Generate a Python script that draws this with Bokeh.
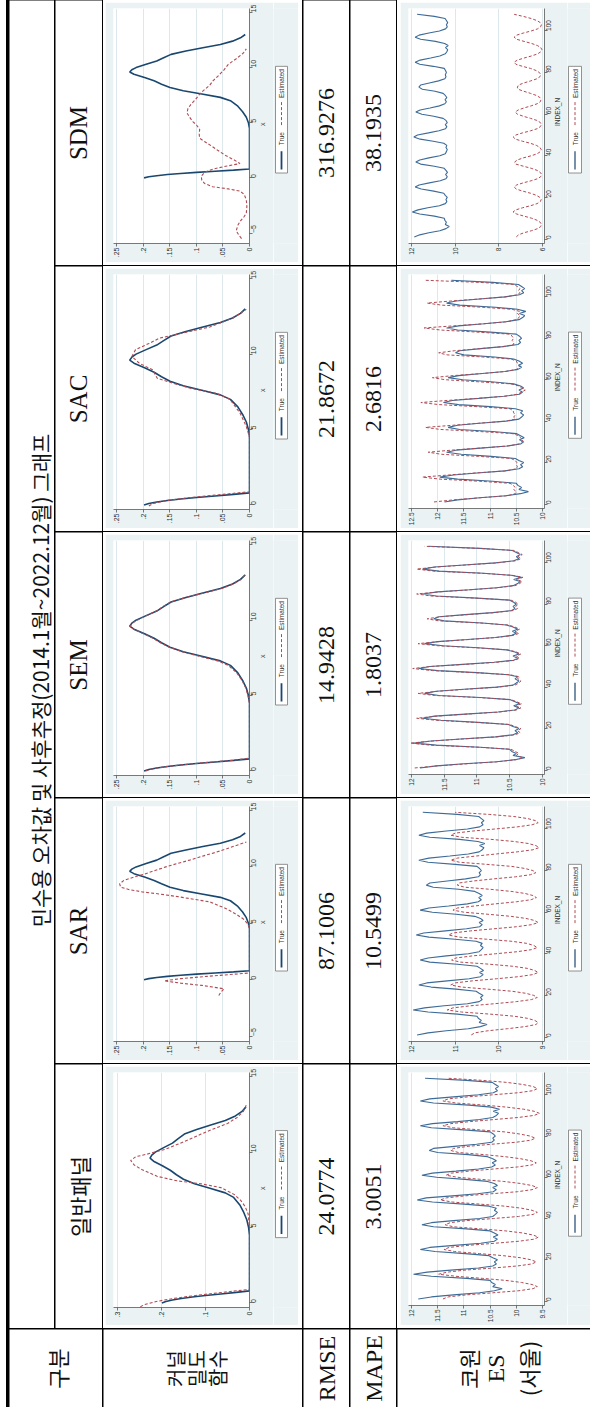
import math
from bokeh.plotting import figure
from bokeh.models import Range1d, FixedTicker, Spacer, Row, Column
from bokeh.core.properties import value
from bokeh.embed import file_html
from bokeh.resources import INLINE

# ---------------- data ----------------
models = ["일반패널", "SAR", "SEM", "SAC", "SDM"]
rmse = ["24.0774", "87.1006", "14.9428", "21.8672", "316.9276"]
mape = ["3.0051", "10.5499", "1.8037", "2.6816", "38.1935"]
title_text = "민수용 오차값 및 사후추정(2014.1월~2022.12월) 그래프"
head_label = "구분"
kernel_label = ["커널", "밀도", "함수"]
rmse_label = "RMSE"
mape_label = "MAPE"
es_label = ["코원", "ES", "(서울)"]
legend_labels = ["True", "Estimated"]

# kernel density: true curve
true_kx = [0.0, 0.1, 0.2, 0.3, 0.4, 0.5, 0.6, 0.7, 0.8, 1.5, 2.5, 3.5, 4.5, 5.0, 5.5, 6.0, 6.5,
           7.0, 7.3, 7.6, 7.9, 8.2, 8.5, 8.8, 9.1, 9.4, 9.6, 9.8, 10.0, 10.3, 10.6, 10.9, 11.2,
           11.5, 11.8, 12.1, 12.4, 12.7, 13.0]
true_kd = [0.199, 0.19, 0.175, 0.155, 0.13, 0.1, 0.065, 0.03, 0.0, 0.0, 0.0, 0.0, 0.0, 0.002, 0.006,
           0.013, 0.022, 0.036, 0.055, 0.09, 0.125, 0.15, 0.166, 0.18, 0.198, 0.218, 0.226, 0.222,
           0.214, 0.195, 0.175, 0.162, 0.148, 0.12, 0.088, 0.055, 0.032, 0.017, 0.008]

# kernel density: estimated curves
gen_kx = [-0.25, -0.1, 0.1, 0.3, 0.5, 0.7, 0.9, 2.0, 3.0, 4.0, 5.0, 5.9, 6.4, 6.8, 7.2, 7.65, 7.9,
          8.1, 8.4, 8.85, 9.15, 9.45, 9.7, 9.85, 10.2, 10.5, 10.85, 11.2, 11.5, 11.9, 12.3, 12.7, 13.2]
gen_kd = [0.248, 0.238, 0.212, 0.172, 0.122, 0.062, 0.0, 0.0, 0.0, 0.0, 0.0, 0.003, 0.01, 0.02, 0.035,
          0.065, 0.11, 0.165, 0.21, 0.245, 0.262, 0.27, 0.258, 0.235, 0.19, 0.165, 0.136, 0.11, 0.085,
          0.05, 0.028, 0.014, 0.006]

sar_kx = [-1.4, -1.1, -0.8, -0.5, -0.3, -0.1, 0.1, 0.3, 0.45, 0.6, 1.5, 3.0, 4.6, 5.0, 5.4, 5.8, 6.3,
          6.9, 7.34, 7.6, 7.78, 8.0, 8.2, 8.5, 8.8, 9.1, 9.4, 9.7, 10.0, 10.3, 10.6, 11.0, 11.3, 11.6,
          11.9, 12.2]
sar_kd = [0.058, 0.054, 0.048, 0.09, 0.13, 0.161, 0.13, 0.08, 0.04, 0.0, 0.0, 0.0, 0.0, 0.004, 0.012,
          0.025, 0.044, 0.075, 0.132, 0.17, 0.202, 0.228, 0.243, 0.245, 0.237, 0.218, 0.196, 0.177,
          0.158, 0.136, 0.113, 0.085, 0.063, 0.043, 0.025, 0.006]

sem_kx = [0.0, 0.1, 0.2, 0.3, 0.4, 0.5, 0.6, 0.7, 0.85, 1.5, 2.5, 3.5, 4.5, 5.0, 5.5, 6.0, 6.5, 7.0,
          7.3, 7.6, 7.9, 8.2, 8.5, 8.8, 9.1, 9.4, 9.6, 9.8, 10.0, 10.3, 10.6, 10.9, 11.2, 11.5, 11.8,
          12.1, 12.4, 12.7, 13.0]
sem_kd = [0.196, 0.188, 0.174, 0.154, 0.13, 0.101, 0.068, 0.034, 0.0, 0.0, 0.0, 0.0, 0.0, 0.003,
          0.007, 0.014, 0.024, 0.04, 0.06, 0.094, 0.127, 0.151, 0.168, 0.182, 0.2, 0.219, 0.225, 0.221,
          0.212, 0.194, 0.176, 0.163, 0.149, 0.121, 0.086, 0.052, 0.03, 0.016, 0.008]

sac_kx = [-0.07, 0.1, 0.3, 0.5, 0.7, 0.88, 2.0, 3.5, 4.5, 5.2, 6.1, 7.0, 7.4, 7.75, 8.08, 8.4, 8.96,
          9.4, 9.85, 10.3, 10.7, 11.06, 11.4, 11.8, 12.4, 12.97]
sac_kd = [0.19, 0.182, 0.155, 0.11, 0.05, 0.0, 0.0, 0.0, 0.0, 0.006, 0.018, 0.037, 0.063, 0.113,
          0.145, 0.174, 0.183, 0.208, 0.222, 0.215, 0.19, 0.17, 0.126, 0.075, 0.031, 0.006]

sdm_kx = [-5.5, -5.2, -4.8, -4.3, -3.9, -3.5, -3.2, -2.6, -2.0, -1.5, -1.2, -1.0, -0.8, -0.5, -0.2,
          0.15, 0.5, 0.8, 1.05, 1.3, 1.6, 2.0, 2.5, 2.9, 3.3, 3.6, 4.0, 4.4, 4.8, 5.1, 5.5, 5.9, 6.3,
          6.7, 7.1, 7.6, 8.0, 8.4, 8.8, 9.3, 9.8, 10.3, 10.8, 11.3, 11.7]
sdm_kd = [0.015, 0.02, 0.025, 0.022, 0.017, 0.01, 0.006, 0.005, 0.006, 0.01, 0.018, 0.04, 0.07,
          0.085, 0.09, 0.091, 0.085, 0.069, 0.045, 0.018, 0.028, 0.044, 0.06, 0.072, 0.085, 0.094,
          0.095, 0.094, 0.1, 0.107, 0.113, 0.118, 0.116, 0.11, 0.102, 0.094, 0.085, 0.075, 0.069,
          0.058, 0.048, 0.04, 0.025, 0.012, 0.006]

# ES (Seoul) monthly series, INDEX_N 1..108 (2014.1 ~ 2022.12)
index_n = list(range(1, 109))
true_es = [
    11.87, 11.62, 11.20, 10.70, 10.42, 10.27, 10.45, 10.40, 10.47, 10.50, 10.95, 11.62,
    11.96, 11.70, 11.25, 10.72, 10.45, 10.38, 10.42, 10.36, 10.45, 10.52, 10.98, 11.55,
    11.83, 11.65, 11.18, 10.68, 10.42, 10.36, 10.44, 10.35, 10.42, 10.50, 10.95, 11.58,
    11.80, 11.62, 11.20, 10.70, 10.45, 10.40, 10.36, 10.42, 10.38, 10.52, 11.00, 11.60,
    11.89, 11.72, 11.22, 10.74, 10.44, 10.38, 10.45, 10.36, 10.42, 10.55, 10.98, 11.52,
    11.80, 11.60, 11.15, 10.72, 10.47, 10.40, 10.46, 10.38, 10.45, 10.55, 10.92, 11.50,
    11.66, 11.58, 11.18, 10.76, 10.47, 10.42, 10.45, 10.40, 10.44, 10.50, 11.00, 11.62,
    11.83, 11.60, 11.12, 10.70, 10.45, 10.38, 10.34, 10.44, 10.32, 10.48, 10.90, 11.58,
    11.83, 11.65, 11.20, 10.72, 10.44, 10.36, 10.40, 10.34, 10.40, 10.46, 10.95, 11.74]
gen_es = [
    11.40, 11.30, 10.95, 10.45, 9.95, 9.68, 9.60, 9.70, 9.90, 10.20, 10.65, 11.15,
    11.48, 11.32, 10.98, 10.45, 9.98, 9.70, 9.62, 9.72, 9.92, 10.25, 10.70, 11.18,
    11.38, 11.28, 10.92, 10.42, 9.95, 9.66, 9.58, 9.68, 9.88, 10.20, 10.68, 11.20,
    11.36, 11.26, 10.94, 10.44, 9.96, 9.68, 9.60, 9.70, 9.90, 10.22, 10.70, 11.22,
    11.45, 11.34, 10.98, 10.48, 9.98, 9.70, 9.60, 9.70, 9.92, 10.25, 10.68, 11.12,
    11.34, 11.24, 10.90, 10.44, 9.98, 9.70, 9.62, 9.72, 9.92, 10.22, 10.62, 11.10,
    11.25, 11.20, 10.92, 10.48, 10.00, 9.72, 9.64, 9.74, 9.94, 10.22, 10.70, 11.20,
    11.40, 11.25, 10.88, 10.42, 9.96, 9.66, 9.56, 9.66, 9.86, 10.18, 10.62, 11.15,
    11.40, 11.30, 10.92, 10.44, 9.96, 9.68, 9.60, 9.68, 9.88, 10.18, 10.66, 11.30]
sar_es = [
    10.63, 10.55, 10.25, 9.80, 9.40, 9.15, 9.10, 9.18, 9.35, 9.65, 10.20, 10.85,
    11.18, 11.05, 10.65, 10.10, 9.60, 9.25, 9.12, 9.20, 9.38, 9.70, 10.25, 10.85,
    11.10, 11.00, 10.60, 10.05, 9.55, 9.22, 9.10, 9.18, 9.35, 9.68, 10.22, 10.88,
    11.08, 10.98, 10.60, 10.08, 9.58, 9.25, 9.12, 9.20, 9.36, 9.70, 10.28, 10.90,
    11.15, 11.05, 10.65, 10.12, 9.60, 9.25, 9.10, 9.18, 9.38, 9.72, 10.25, 10.80,
    11.05, 10.95, 10.55, 10.08, 9.60, 9.26, 9.14, 9.22, 9.40, 9.72, 10.20, 10.78,
    10.95, 10.92, 10.58, 10.12, 9.62, 9.28, 9.15, 9.22, 9.40, 9.70, 10.28, 10.90,
    11.10, 10.95, 10.52, 10.05, 9.58, 9.22, 9.08, 9.15, 9.32, 9.66, 10.18, 10.85,
    11.10, 11.00, 10.60, 10.08, 9.58, 9.24, 9.10, 9.16, 9.34, 9.66, 10.22, 11.00]
sem_es = [
    11.95, 11.60, 11.15, 10.68, 10.40, 10.30, 10.40, 10.36, 10.42, 10.48, 10.98, 11.70,
    12.02, 11.68, 11.22, 10.70, 10.42, 10.34, 10.38, 10.33, 10.42, 10.50, 11.02, 11.62,
    11.92, 11.62, 11.15, 10.66, 10.40, 10.33, 10.40, 10.32, 10.40, 10.48, 10.98, 11.65,
    11.90, 11.60, 11.16, 10.68, 10.42, 10.36, 10.33, 10.38, 10.35, 10.50, 11.04, 11.68,
    11.98, 11.70, 11.18, 10.70, 10.42, 10.35, 10.40, 10.33, 10.40, 10.52, 11.02, 11.60,
    11.90, 11.58, 11.12, 10.70, 10.44, 10.36, 10.42, 10.35, 10.42, 10.52, 10.96, 11.58,
    11.76, 11.56, 11.15, 10.73, 10.44, 10.38, 10.41, 10.37, 10.41, 10.48, 11.04, 11.70,
    11.92, 11.58, 11.10, 10.68, 10.42, 10.35, 10.31, 10.40, 10.30, 10.46, 10.94, 11.66,
    11.92, 11.62, 11.16, 10.70, 10.41, 10.33, 10.37, 10.31, 10.37, 10.44, 10.98, 11.80]
sac_es = [
    12.07, 11.70, 11.20, 10.68, 10.52, 10.50, 10.55, 10.52, 10.56, 10.62, 11.20, 11.95,
    12.29, 11.80, 11.28, 10.70, 10.50, 10.48, 10.50, 10.49, 10.52, 10.60, 11.22, 11.92,
    12.18, 11.74, 11.20, 10.66, 10.45, 10.40, 10.37, 10.42, 10.45, 10.58, 11.20, 11.95,
    12.23, 11.72, 11.22, 10.70, 10.52, 10.55, 10.52, 10.55, 10.56, 10.62, 11.25, 11.98,
    12.32, 11.82, 11.25, 10.72, 10.48, 10.40, 10.33, 10.40, 10.45, 10.60, 11.22, 11.85,
    12.10, 11.70, 11.15, 10.70, 10.50, 10.45, 10.43, 10.48, 10.50, 10.60, 11.15, 11.82,
    11.98, 11.68, 11.20, 10.74, 10.55, 10.55, 10.58, 10.55, 10.58, 10.62, 11.25, 11.95,
    12.26, 11.70, 11.12, 10.68, 10.50, 10.45, 10.43, 10.48, 10.44, 10.58, 11.15, 11.92,
    12.20, 11.75, 11.20, 10.70, 10.48, 10.43, 10.46, 10.43, 10.48, 10.55, 11.20, 12.23]
sdm_es = [
    7.20, 7.10, 6.85, 6.50, 6.22, 6.08, 6.05, 6.10, 6.25, 6.50, 6.85, 7.18,
    7.35, 7.22, 6.92, 6.55, 6.25, 6.10, 6.06, 6.12, 6.28, 6.55, 6.90, 7.20,
    7.30, 7.18, 6.88, 6.52, 6.22, 6.08, 6.04, 6.10, 6.25, 6.52, 6.88, 7.22,
    7.28, 7.15, 6.88, 6.52, 6.24, 6.10, 6.06, 6.12, 6.28, 6.55, 6.92, 7.24,
    7.34, 7.22, 6.92, 6.55, 6.25, 6.10, 6.05, 6.10, 6.26, 6.55, 6.88, 7.15,
    7.25, 7.12, 6.85, 6.52, 6.25, 6.10, 6.07, 6.12, 6.28, 6.55, 6.85, 7.12,
    7.15, 7.10, 6.86, 6.54, 6.26, 6.12, 6.08, 6.14, 6.30, 6.55, 6.92, 7.22,
    7.30, 7.15, 6.84, 6.50, 6.22, 6.08, 6.03, 6.08, 6.24, 6.50, 6.85, 7.18,
    7.30, 7.18, 6.88, 6.52, 6.23, 6.09, 6.05, 6.10, 6.26, 6.52, 6.88, 7.30]

# axes (per model, original order)
k_est_x = [gen_kx, sar_kx, sem_kx, sac_kx, sdm_kx]
k_est_d = [gen_kd, sar_kd, sem_kd, sac_kd, sdm_kd]
k_dticks = [[0, 0.1, 0.2, 0.3]] + [[0, 0.05, 0.1, 0.15, 0.2, 0.25]] * 4
k_dlabels = [["0", ".1", ".2", ".3"]] + [["0", ".05", ".1", ".15", ".2", ".25"]] * 4
k_xticks = [[0, 5, 10, 15], [-5, 0, 5, 10, 15], [0, 5, 10, 15], [0, 5, 10, 15], [-5, 0, 5, 10, 15]]
es_est = [gen_es, sar_es, sem_es, sac_es, sdm_es]
es_vticks = [[9.5, 10, 10.5, 11, 11.5, 12], [9, 10, 11, 12], [10, 10.5, 11, 11.5, 12],
             [10, 10.5, 11, 11.5, 12, 12.5], [6, 8, 10, 12]]
es_vlabels = [["9.5", "10", "10.5", "11", "11.5", "12"], ["9", "10", "11", "12"],
              ["10", "10.5", "11", "11.5", "12"], ["10", "10.5", "11", "11.5", "12", "12.5"],
              ["6", "8", "10", "12"]]
es_iticks = [0, 20, 40, 60, 80, 100]

# axis extents (view settings)
k_xrange = [(-0.3, 15.28), (-5.47, 15.35), (-0.3, 15.28), (-0.3, 15.28), (-5.95, 15.36)]
k_drange = [(0.309, 0.0), (0.2566, 0.0), (0.2566, 0.0), (0.2566, 0.0), (0.2566, 0.0)]
es_vrange = [(12.056, 9.463), (12.067, 8.955), (12.045, 9.97), (12.556, 9.963), (12.134, 5.91)]
es_irange = (-2.16, 110.8)

# ---------------- style ----------------
PANEL = "#eaf2f3"
GRID = "#dde8ec"
NAVY = "#1a476f"
MAROON = "#b04a52"
AXC = "#555555"
LBL = "#333333"
KFONT = "Noto Sans CJK KR"
SFONT = "Liberation Serif"
AFONT = "Liberation Sans"
HALF = math.pi / 2

# page geometry (rows top-to-bottom: SDM, SAC, SEM, SAR, 일반패널)
order = [4, 3, 2, 1, 0]
row_top = [0, 266, 532, 798, 1064]
row_h = [265, 265, 265, 265, 264]


def text_fig(w, h, items):
    p = figure(width=w, height=h, x_range=Range1d(0, w), y_range=Range1d(0, h),
               x_axis_type=None, y_axis_type=None, toolbar_location=None,
               output_backend="svg", min_border=0, outline_line_color=None,
               background_fill_color="white", border_fill_color="white")
    for (x, y, t, font, size) in items:
        p.text(x=[x], y=[y], text=[t], angle=HALF, text_align="center",
               text_baseline="middle", text_font=value(font), text_font_size=size,
               text_color="#111111")
    return p


def style_axes(p, fs):
    for ax in p.axis:
        ax.axis_line_color = AXC
        ax.axis_line_width = 0.8
        ax.major_tick_line_color = AXC
        ax.major_tick_line_width = 0.8
        ax.major_tick_out = 3
        ax.major_tick_in = 0
        ax.minor_tick_line_color = None
        ax.major_label_text_font = AFONT
        ax.major_label_text_font_size = fs
        ax.major_label_text_color = LBL
        ax.major_label_standoff = 1
        ax.major_label_orientation = HALF
        ax.axis_label_text_font = AFONT
        ax.axis_label_text_font_size = fs
        ax.axis_label_text_font_style = "normal"
        ax.axis_label_text_color = LBL
        ax.axis_label_standoff = 1


def base_chart(w, h, mtop, mbot, mright, xr, yr, vticks, vlabels, iticks, ilabel, fs):
    p = figure(width=w, height=h, x_range=Range1d(*xr), y_range=Range1d(*yr),
               x_axis_location="below", y_axis_location="right",
               toolbar_location=None, output_backend="svg",
               min_border_left=8, min_border_right=mright,
               min_border_top=mtop, min_border_bottom=mbot,
               background_fill_color="white", border_fill_color=PANEL,
               outline_line_color=None)
    p.xaxis.ticker = FixedTicker(ticks=vticks)
    p.xaxis.major_label_overrides = dict(zip(vticks, vlabels))
    p.xgrid.ticker = FixedTicker(ticks=vticks)
    p.xgrid.grid_line_color = GRID
    p.ygrid.grid_line_color = None
    p.yaxis.ticker = FixedTicker(ticks=iticks)
    p.yaxis.axis_label = ilabel
    style_axes(p, fs)
    for ax in p.yaxis:
        if hasattr(ax, "axis_label_orientation"):
            ax.axis_label_orientation = HALF
    return p


def legend_fig(w, h, bottom_page, rtop, bx0, bx1, solid_w):
    p = figure(width=w, height=h, x_range=Range1d(0, w), y_range=Range1d(0, h),
               x_axis_type=None, y_axis_type=None, toolbar_location=None,
               output_backend="svg", min_border=0, outline_line_color=None,
               background_fill_color=PANEL, border_fill_color=PANEL)

    def Y(r):
        return bottom_page - (rtop + r)
    cx = (bx0 + bx1) / 2
    p.quad(left=[bx0], right=[bx1], bottom=[Y(184)], top=[Y(66)], fill_color="white",
           line_color="#777777", line_width=0.8)
    p.line(x=[cx, cx], y=[Y(180), Y(160)], line_color=NAVY, line_width=solid_w)
    p.line(x=[cx, cx], y=[Y(131), Y(104)], line_color=MAROON, line_width=1, line_dash="3 2")
    for lab, r in zip(legend_labels, [146, 85]):
        p.text(x=[cx + 0.3], y=[Y(r)], text=[lab], angle=HALF, text_align="center",
               text_baseline="middle", text_font=value(AFONT), text_font_size="6.5px",
               text_color=LBL)
    return p


def white_col(children):
    return Column(children=children, spacing=0, styles={"background-color": "white"})


BLACK = {"background-color": "#000000"}
WHITE = {"background-color": "#ffffff"}

model_rows = []
for i, m in enumerate(order):
    top_sp = 2
    bot_sp = 3
    rt = row_top[i]
    panel_h = row_h[i] - top_sp - bot_sp
    panel_bottom = rt + row_h[i] - bot_sp
    frame_top = rt + 8
    frame_bot = rt + 243
    mtop = frame_top - (rt + top_sp)
    mbot = panel_bottom - frame_bot
    yc = row_h[i] - (132 if m == 0 else 132.5)

    # header
    hfont, hsize = (KFONT, "22px") if m == 0 else (SFONT, "25px")
    header = text_fig(47, row_h[i], [(23, yc, models[m], hfont, hsize)])

    # kernel density chart
    kc = base_chart(168, panel_h, mtop, mbot, 24, k_drange[m], k_xrange[m],
                    k_dticks[m], k_dlabels[m], k_xticks[m], "x", "7px")
    kc.line(x=true_kd, y=true_kx, line_color=NAVY, line_width=1.6)
    kc.line(x=k_est_d[m], y=k_est_x[m], line_color=MAROON, line_width=1.1, line_dash="3 2")
    kl = legend_fig(25, panel_h, panel_bottom, rt, 2, 14, 1.8)
    kcell = white_col([
        Spacer(width=199, height=top_sp),
        Row(children=[Spacer(width=2, height=panel_h), kc, kl,
                      Spacer(width=4, height=panel_h)], spacing=0),
        Spacer(width=199, height=bot_sp)])

    # RMSE / MAPE
    rfig = text_fig(46, row_h[i], [(23, yc, rmse[m], SFONT, "24px")])
    mfig = text_fig(46, row_h[i], [(23, yc, mape[m], SFONT, "24px")])

    # ES chart
    ec = base_chart(167, panel_h, mtop, mbot, 20, es_vrange[m], es_irange,
                    es_vticks[m], es_vlabels[m], es_iticks, "INDEX_N", "6.5px")
    ec.line(x=true_es, y=index_n, line_color="#3d6b98", line_width=1.1)
    ec.line(x=es_est[m], y=index_n, line_color=MAROON, line_width=1.0, line_dash="3 2")
    el = legend_fig(23, panel_h, panel_bottom, rt, 1, 14, 1.2)
    ecell = white_col([
        Spacer(width=193, height=top_sp),
        Row(children=[Spacer(width=3, height=panel_h), ec, el], spacing=0),
        Spacer(width=193, height=bot_sp)])

    model_rows.append(Row(children=[header, kcell, rfig, mfig, ecell], spacing=1, styles=BLACK))

models_col = Column(children=model_rows, spacing=1, styles=BLACK)
title_fig = text_fig(45, 1328, [(30, 648, title_text, KFONT, "21px")])
top_part = Row(children=[title_fig, models_col], spacing=1, styles=BLACK)

bh = 78
by = 39
b_head = text_fig(93, bh, [(47, by, head_label, KFONT, "22px")])
b_kern = text_fig(199, bh, [(x, by, t, KFONT, "20px") for x, t in zip([72, 93, 114], kernel_label)])
b_rmse = text_fig(46, bh, [(23, by, rmse_label, SFONT, "24px")])
b_mape = text_fig(46, bh, [(23, by, mape_label, SFONT, "24px")])
b_es = text_fig(193, bh, [(70, by, es_label[0], KFONT, "22px"),
                          (98, by, es_label[1], SFONT, "24px"),
                          (130, by, es_label[2], KFONT, "22px")])
bottom_row = Row(children=[b_head, b_kern, b_rmse, b_mape, b_es], spacing=1, styles=BLACK)

main = Column(children=[top_part, bottom_row], spacing=1, styles=BLACK)
layout = Row(children=[Spacer(width=6, height=1407),
                       Spacer(width=3, height=1407, styles=BLACK),
                       main], spacing=0, styles=WHITE)

with open("out.html", "w", encoding="utf-8") as f:
    f.write(file_html(layout, INLINE))
